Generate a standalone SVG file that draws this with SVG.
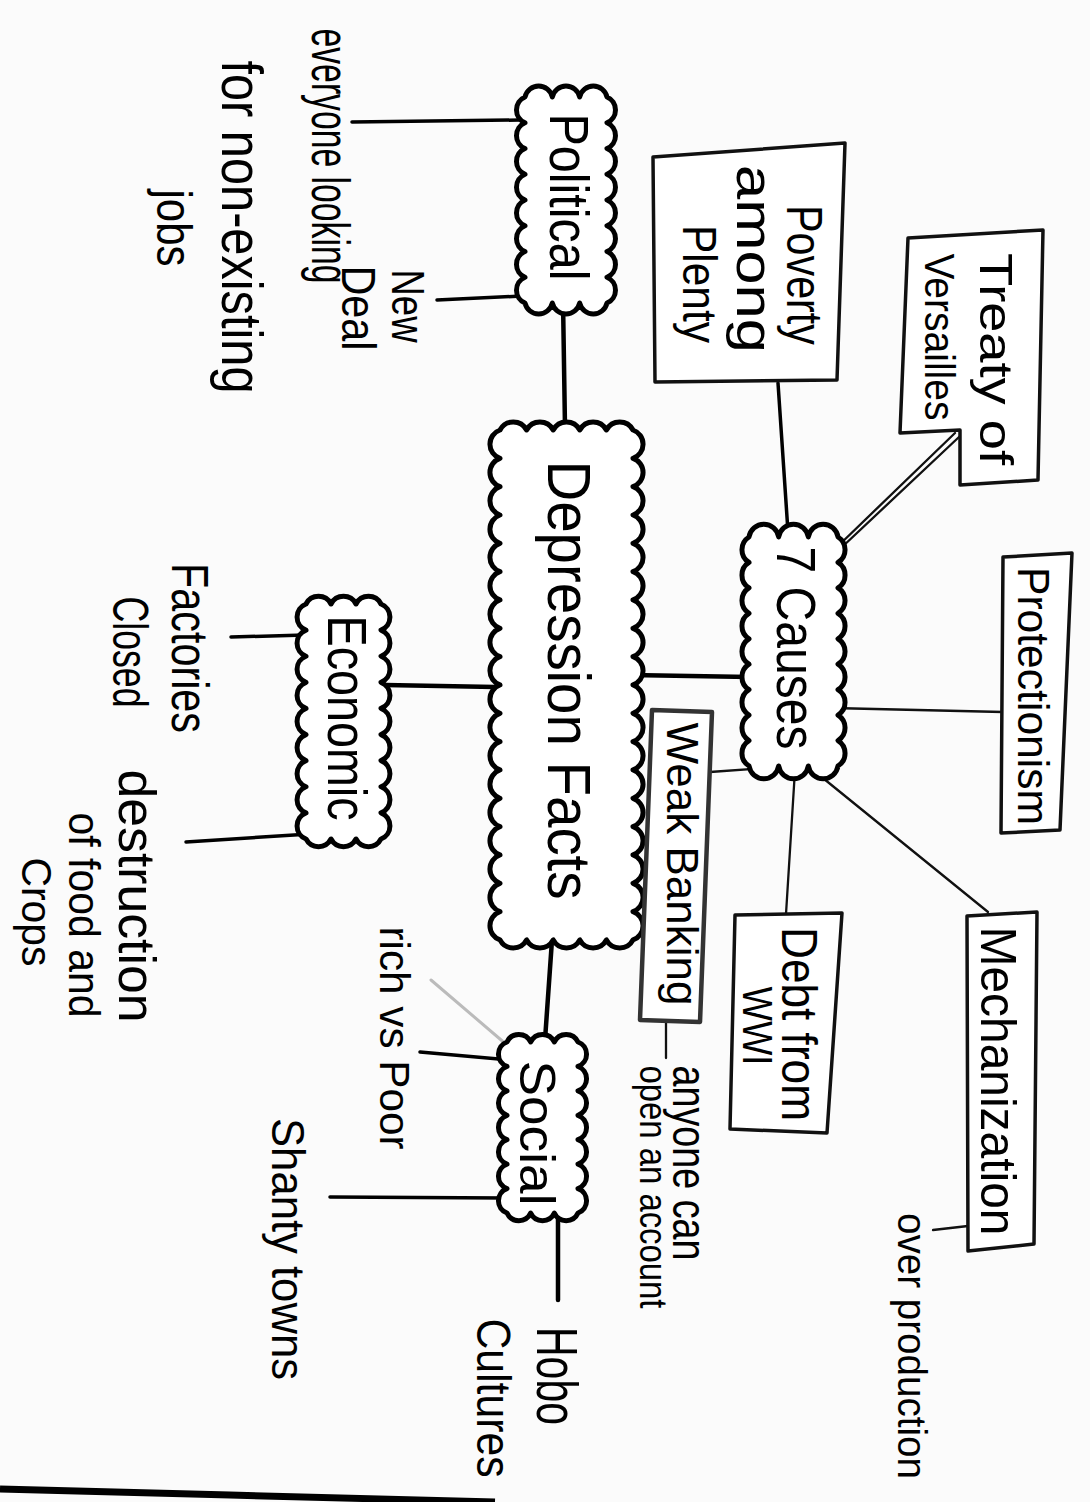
<svg xmlns="http://www.w3.org/2000/svg" width="1090" height="1502" viewBox="0 0 1090 1502">
<style>
.cloud{fill:#fff;stroke:#000;stroke-width:5;stroke-linejoin:round}
.box{fill:#fff;stroke:#111;stroke-width:3.5;stroke-linejoin:round}
.thick{stroke:#000;stroke-width:4.5;stroke-linecap:round;fill:none}
.med{stroke:#000;stroke-width:3.5;stroke-linecap:round;fill:none}
.thin{stroke:#111;stroke-width:2.3;stroke-linecap:round;fill:none}
.faint{stroke:#bbb;stroke-width:3;stroke-linecap:round;fill:none}
text{font-family:"Liberation Sans",Arial,sans-serif;fill:#000;text-anchor:middle}
</style>
<rect width="1090" height="1502" fill="#fbfbfb"/>
<path d="M0 1489 L230 1495 L495 1502" stroke="#000" stroke-width="7" fill="none"/>

<g id="connectors">
<line class="thick" x1="563" y1="300" x2="565" y2="428"/>
<line class="thick" x1="552" y1="940" x2="545" y2="1040"/>
<line class="thick" x1="495" y1="687" x2="385" y2="685"/>
<line class="thick" x1="630" y1="675" x2="750" y2="677"/>
<line class="thick" x1="558" y1="1210" x2="558" y2="1300"/>
<line class="med" x1="352" y1="122" x2="520" y2="120"/>
<line class="med" x1="437" y1="300" x2="522" y2="296"/>
<line class="med" x1="231" y1="637" x2="305" y2="635"/>
<line class="med" x1="186" y1="842" x2="310" y2="834"/>
<line class="med" x1="420" y1="1052" x2="510" y2="1060"/>
<line class="med" x1="330" y1="1197" x2="505" y2="1198"/>
<line class="med" x1="778" y1="383" x2="788" y2="532"/>
<line class="thin" x1="955" y1="433" x2="836" y2="548"/>
<line class="thin" x1="959" y1="437" x2="841" y2="548"/>
<line class="thin" x1="832" y1="708" x2="1003" y2="712"/>
<line class="thin" x1="767" y1="768" x2="710" y2="772"/>
<line class="thin" x1="795" y1="770" x2="786" y2="914"/>
<line class="thin" x1="813" y1="770" x2="988" y2="912"/>
<line class="thin" x1="666" y1="1022" x2="666" y2="1058"/>
<line class="thin" x1="968" y1="1226" x2="933" y2="1230"/>
<line class="faint" x1="431" y1="980" x2="507" y2="1045"/>
</g>

<g id="depression-facts">
<path class="cloud" d="M500 430 a15 15 0 0 1 26.6 0 a15 15 0 0 1 26.6 0 a15 15 0 0 1 26.6 0 a15 15 0 0 1 26.6 0 a15 15 0 0 1 26.6 0 a15 15 0 0 1 0 28.33 a15 15 0 0 1 0 28.33 a15 15 0 0 1 0 28.33 a15 15 0 0 1 0 28.33 a15 15 0 0 1 0 28.33 a15 15 0 0 1 0 28.33 a15 15 0 0 1 0 28.33 a15 15 0 0 1 0 28.33 a15 15 0 0 1 0 28.33 a15 15 0 0 1 0 28.33 a15 15 0 0 1 0 28.33 a15 15 0 0 1 0 28.33 a15 15 0 0 1 0 28.33 a15 15 0 0 1 0 28.33 a15 15 0 0 1 0 28.33 a15 15 0 0 1 0 28.33 a15 15 0 0 1 0 28.33 a15 15 0 0 1 0 28.33 a15 15 0 0 1 -26.6 0 a15 15 0 0 1 -26.6 0 a15 15 0 0 1 -26.6 0 a15 15 0 0 1 -26.6 0 a15 15 0 0 1 -26.6 0 a15 15 0 0 1 0 -28.33 a15 15 0 0 1 0 -28.33 a15 15 0 0 1 0 -28.33 a15 15 0 0 1 0 -28.33 a15 15 0 0 1 0 -28.33 a15 15 0 0 1 0 -28.33 a15 15 0 0 1 0 -28.33 a15 15 0 0 1 0 -28.33 a15 15 0 0 1 0 -28.33 a15 15 0 0 1 0 -28.33 a15 15 0 0 1 0 -28.33 a15 15 0 0 1 0 -28.33 a15 15 0 0 1 0 -28.33 a15 15 0 0 1 0 -28.33 a15 15 0 0 1 0 -28.33 a15 15 0 0 1 0 -28.33 a15 15 0 0 1 0 -28.33 a15 15 0 0 1 0 -28.33 z"/>
<text transform="translate(548,680) rotate(90)" font-size="62" textLength="439" lengthAdjust="spacingAndGlyphs">Depression Facts</text>
</g>

<g id="political">
<path class="cloud" d="M525 97 a14 14 0 0 1 27.33 0 a14 14 0 0 1 27.33 0 a14 14 0 0 1 27.33 0 a14 14 0 0 1 0 25.75 a14 14 0 0 1 0 25.75 a14 14 0 0 1 0 25.75 a14 14 0 0 1 0 25.75 a14 14 0 0 1 0 25.75 a14 14 0 0 1 0 25.75 a14 14 0 0 1 0 25.75 a14 14 0 0 1 0 25.75 a14 14 0 0 1 -27.33 0 a14 14 0 0 1 -27.33 0 a14 14 0 0 1 -27.33 0 a14 14 0 0 1 0 -25.75 a14 14 0 0 1 0 -25.75 a14 14 0 0 1 0 -25.75 a14 14 0 0 1 0 -25.75 a14 14 0 0 1 0 -25.75 a14 14 0 0 1 0 -25.75 a14 14 0 0 1 0 -25.75 a14 14 0 0 1 0 -25.75 z"/>
<text transform="translate(550,197) rotate(90)" font-size="56" textLength="167" lengthAdjust="spacingAndGlyphs">Political</text>
</g>

<g id="economic">
<path class="cloud" d="M306 604 a14 14 0 0 1 25 0 a14 14 0 0 1 25 0 a14 14 0 0 1 25 0 a14 14 0 0 1 0 26.11 a14 14 0 0 1 0 26.11 a14 14 0 0 1 0 26.11 a14 14 0 0 1 0 26.11 a14 14 0 0 1 0 26.11 a14 14 0 0 1 0 26.11 a14 14 0 0 1 0 26.11 a14 14 0 0 1 0 26.11 a14 14 0 0 1 0 26.11 a14 14 0 0 1 -25 0 a14 14 0 0 1 -25 0 a14 14 0 0 1 -25 0 a14 14 0 0 1 0 -26.11 a14 14 0 0 1 0 -26.11 a14 14 0 0 1 0 -26.11 a14 14 0 0 1 0 -26.11 a14 14 0 0 1 0 -26.11 a14 14 0 0 1 0 -26.11 a14 14 0 0 1 0 -26.11 a14 14 0 0 1 0 -26.11 a14 14 0 0 1 0 -26.11 z"/>
<text transform="translate(328,718) rotate(90)" font-size="56" textLength="205" lengthAdjust="spacingAndGlyphs">Economic</text>
</g>

<g id="social">
<path class="cloud" d="M507 1042 a13 13 0 0 1 23.67 0 a13 13 0 0 1 23.67 0 a13 13 0 0 1 23.67 0 a13 13 0 0 1 0 24.43 a13 13 0 0 1 0 24.43 a13 13 0 0 1 0 24.43 a13 13 0 0 1 0 24.43 a13 13 0 0 1 0 24.43 a13 13 0 0 1 0 24.43 a13 13 0 0 1 0 24.43 a13 13 0 0 1 -23.67 0 a13 13 0 0 1 -23.67 0 a13 13 0 0 1 -23.67 0 a13 13 0 0 1 0 -24.43 a13 13 0 0 1 0 -24.43 a13 13 0 0 1 0 -24.43 a13 13 0 0 1 0 -24.43 a13 13 0 0 1 0 -24.43 a13 13 0 0 1 0 -24.43 a13 13 0 0 1 0 -24.43 z"/>
<text transform="translate(520,1133) rotate(90)" font-size="50" textLength="145" lengthAdjust="spacingAndGlyphs">Social</text>
</g>

<g id="seven-causes">
<path class="cloud" d="M749 537 a15 15 0 0 1 29.67 0 a15 15 0 0 1 29.67 0 a15 15 0 0 1 29.67 0 a15 15 0 0 1 0 25.44 a15 15 0 0 1 0 25.44 a15 15 0 0 1 0 25.44 a15 15 0 0 1 0 25.44 a15 15 0 0 1 0 25.44 a15 15 0 0 1 0 25.44 a15 15 0 0 1 0 25.44 a15 15 0 0 1 0 25.44 a15 15 0 0 1 0 25.44 a15 15 0 0 1 -29.67 0 a15 15 0 0 1 -29.67 0 a15 15 0 0 1 -29.67 0 a15 15 0 0 1 0 -25.44 a15 15 0 0 1 0 -25.44 a15 15 0 0 1 0 -25.44 a15 15 0 0 1 0 -25.44 a15 15 0 0 1 0 -25.44 a15 15 0 0 1 0 -25.44 a15 15 0 0 1 0 -25.44 a15 15 0 0 1 0 -25.44 a15 15 0 0 1 0 -25.44 z"/>
<text transform="translate(777,648) rotate(90)" font-size="56" textLength="203" lengthAdjust="spacingAndGlyphs">7 Causes</text>
</g>

<g id="poverty-among-plenty">
<polygon class="box" points="653,157 845,143 837,380 655,382"/>
<text transform="translate(787,275) rotate(90)" font-size="50" textLength="140" lengthAdjust="spacingAndGlyphs">Poverty</text>
<text transform="translate(737,259) rotate(90)" font-size="52" textLength="188" lengthAdjust="spacingAndGlyphs">among</text>
<text transform="translate(683,284) rotate(90)" font-size="48" textLength="118" lengthAdjust="spacingAndGlyphs">Plenty</text>
</g>

<g id="treaty-of-versailles">
<polygon class="box" points="908,238 1043,230 1038,480 960,485 960,430 900,433"/>
<text transform="translate(980,359) rotate(90)" font-size="46" textLength="212" lengthAdjust="spacingAndGlyphs">Treaty of</text>
<text transform="translate(925,337) rotate(90)" font-size="42" textLength="167" lengthAdjust="spacingAndGlyphs">Versailles</text>
</g>

<g id="protectionism">
<polygon class="box" points="1003,557 1072,553 1060,830 1001,833"/>
<text transform="translate(1018,696) rotate(90)" font-size="44" textLength="258" lengthAdjust="spacingAndGlyphs">Protectionism</text>
</g>

<g id="weak-banking">
<polygon class="box" points="652,710 712,712 700,1022 640,1020" style="stroke:#333;stroke-width:4.5"/>
<text transform="translate(667,864) rotate(90)" font-size="44" textLength="283" lengthAdjust="spacingAndGlyphs">Weak Banking</text>
</g>

<g id="debt-from-wwi">
<polygon class="box" points="735,915 842,913 827,1133 730,1129"/>
<text transform="translate(782,1024) rotate(90)" font-size="50" textLength="194" lengthAdjust="spacingAndGlyphs">Debt from</text>
<text transform="translate(743,1026) rotate(90)" font-size="42" textLength="79" lengthAdjust="spacingAndGlyphs">WWI</text>
</g>

<g id="mechanization">
<polygon class="box" points="967,916 1037,912 1034,1244 968,1251"/>
<text transform="translate(981,1081) rotate(90)" font-size="50" textLength="309" lengthAdjust="spacingAndGlyphs">Mechanization</text>
</g>

<g id="everyone-looking">
<text transform="translate(312,156) rotate(90)" font-size="54" textLength="255" lengthAdjust="spacingAndGlyphs">everyone looking</text>
<text transform="translate(222,227) rotate(90)" font-size="58" textLength="333" lengthAdjust="spacingAndGlyphs">for non-existing</text>
<text transform="translate(157,228) rotate(90)" font-size="50" textLength="77" lengthAdjust="spacingAndGlyphs">jobs</text>
</g>

<g id="new-deal">
<text transform="translate(392,306) rotate(90)" font-size="46" textLength="73" lengthAdjust="spacingAndGlyphs">New</text>
<text transform="translate(342,308) rotate(90)" font-size="48" textLength="85" lengthAdjust="spacingAndGlyphs">Deal</text>
</g>

<g id="factories-closed">
<text transform="translate(172,648) rotate(90)" font-size="52" textLength="170" lengthAdjust="spacingAndGlyphs">Factories</text>
<text transform="translate(113,652) rotate(90)" font-size="50" textLength="111" lengthAdjust="spacingAndGlyphs">Closed</text>
</g>

<g id="destruction">
<text transform="translate(119,896) rotate(90)" font-size="52" textLength="253" lengthAdjust="spacingAndGlyphs">destruction</text>
<text transform="translate(69,915) rotate(90)" font-size="44" textLength="205" lengthAdjust="spacingAndGlyphs">of food and</text>
<text transform="translate(22,912) rotate(90)" font-size="42" textLength="109" lengthAdjust="spacingAndGlyphs">Crops</text>
</g>

<g id="rich-vs-poor">
<text transform="translate(380,1038) rotate(90)" font-size="42" textLength="223" lengthAdjust="spacingAndGlyphs">rich vs Poor</text>
</g>

<g id="shanty-towns">
<text transform="translate(272,1249) rotate(90)" font-size="46" textLength="262" lengthAdjust="spacingAndGlyphs">Shanty towns</text>
</g>

<g id="hobo-cultures">
<text transform="translate(537,1376) rotate(90)" font-size="58" textLength="98" lengthAdjust="spacingAndGlyphs">Hobo</text>
<text transform="translate(477,1398) rotate(90)" font-size="48" textLength="159" lengthAdjust="spacingAndGlyphs">Cultures</text>
</g>

<g id="anyone-can">
<text transform="translate(673,1163) rotate(90)" font-size="48" textLength="195" lengthAdjust="spacingAndGlyphs">anyone can</text>
<text transform="translate(640,1187) rotate(90)" font-size="38" textLength="243" lengthAdjust="spacingAndGlyphs">open an account</text>
</g>

<g id="over-production">
<text transform="translate(898,1346) rotate(90)" font-size="40" textLength="266" lengthAdjust="spacingAndGlyphs">over production</text>
</g>
</svg>
